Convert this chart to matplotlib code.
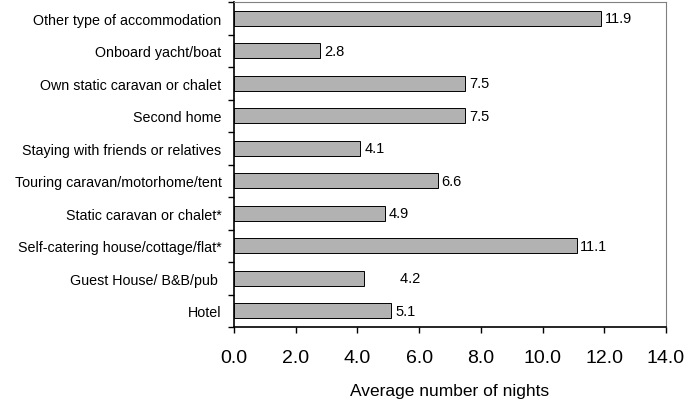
import numpy as np
import matplotlib
matplotlib.use("Agg")
import matplotlib.pyplot as plt

plt.rcParams['font.family'] = ['Liberation Sans', 'DejaVu Sans']

categories = [
    "Hotel",
    "Guest House/ B&B/pub ",
    "Self-catering house/cottage/flat*",
    "Static caravan or chalet*",
    "Touring caravan/motorhome/tent",
    "Staying with friends or relatives",
    "Second home",
    "Own static caravan or chalet",
    "Onboard yacht/boat",
    "Other type of accommodation",
]
nights = [5.1, 4.2, 11.1, 4.9, 6.6, 4.1, 7.5, 7.5, 2.8, 11.9]
value_labels = ["5.1", "        4.2", "11.1", "4.9", "6.6", "4.1", "7.5", "7.5", "2.8", "11.9"]
xticks = np.arange(0, 14.1, 2.0)

fig = plt.figure(figsize=(6.89, 4.02), dpi=100)
ax = fig.add_axes([0.3396, 0.184, 0.627, 0.8085])

y = np.arange(len(categories))
bars = ax.barh(y, nights, height=0.45, color="#b2b2b2", edgecolor="black", linewidth=0.7)
for b, lab in zip(bars, value_labels):
    ax.text(b.get_width() + 0.12, b.get_y() + b.get_height() / 2, lab,
            va="center", ha="left", fontsize=10.5)

ax.set_xlim(0, 14)
ax.set_ylim(-0.5, len(categories) - 0.5)
ax.set_xticks(xticks)
ax.set_xticklabels([f"{t:.1f}" for t in xticks], fontsize=14)
ax.set_yticks(y)
ax.set_yticklabels(categories, fontsize=10.3)
ax.set_yticks(np.arange(-0.5, len(categories), 1.0), minor=True)
ax.tick_params(axis="y", which="major", length=0, pad=9)
ax.tick_params(axis="y", which="minor", length=4, width=1)
ax.tick_params(axis="x", length=4, width=1, pad=12)
ax.set_xlabel("Average number of nights", fontsize=12.5, labelpad=12)

for s in ["left", "bottom"]:
    ax.spines[s].set_linewidth(1.2)
for s in ["top", "right"]:
    ax.spines[s].set_color("#808080")
    ax.spines[s].set_linewidth(0.8)

fig.savefig("out.png", dpi=100)
